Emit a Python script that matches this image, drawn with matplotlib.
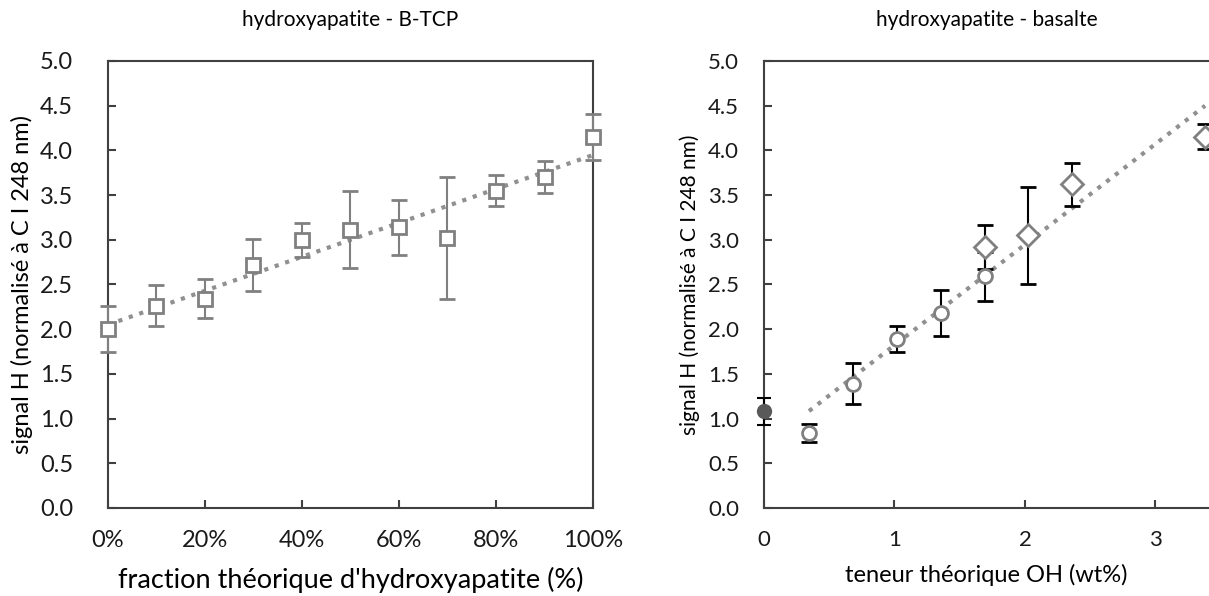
# coding: utf-8
import numpy as np
import matplotlib
matplotlib.use("Agg")
import matplotlib.pyplot as plt
from matplotlib.ticker import PercentFormatter

plt.rcParams['font.family'] = ['Lato', 'DejaVu Sans']

# hydroxyapatite - B-TCP
frac = [0.0, 0.1, 0.2, 0.3, 0.4, 0.5, 0.6, 0.7, 0.8, 0.9, 1.0]
sig_btcp = [2.0, 2.26, 2.34, 2.72, 3.0, 3.11, 3.14, 3.02, 3.55, 3.70, 4.15]
err_btcp = [0.26, 0.23, 0.22, 0.29, 0.19, 0.43, 0.31, 0.68, 0.17, 0.18, 0.26]

# hydroxyapatite - basalte (cercles / losanges / point a 0)
oh_circ = [0.345, 0.68, 1.02, 1.36, 1.69]
sig_circ = [0.84, 1.39, 1.89, 2.18, 2.59]
err_circ = [0.10, 0.23, 0.15, 0.26, 0.27]
oh_diam = [1.69, 2.02, 2.36, 3.38]
sig_diam = [2.92, 3.05, 3.62, 4.15]
err_diam = [0.25, 0.54, 0.24, 0.14]
oh_zero = [0.0]
sig_zero = [1.08]
err_zero = [0.15]

gris = '#808080'
axe = '#404040'
ylab = "signal H (normalisé à C I 248 nm)"

fig = plt.figure(figsize=(12.09, 5.96), dpi=100)
ax1 = fig.add_axes([0.0893, 0.1477, 0.4012, 0.75])
ax2 = fig.add_axes([0.6319, 0.1477, 0.3681, 0.75])

# --- gauche
ax1.errorbar(frac, sig_btcp, yerr=err_btcp, fmt='s', ms=10, mfc='white', mec=gris,
             mew=2, ecolor=gris, elinewidth=1.5, capsize=6, capthick=1.5, clip_on=False, zorder=3)
p1 = np.polyfit(frac, sig_btcp, 1)
xs = np.array([min(frac), max(frac)])
ax1.plot(xs, np.polyval(p1, xs), ':', color='#909090', lw=3, zorder=2)
ax1.set_xlim(0, 1)
ax1.xaxis.set_major_formatter(PercentFormatter(1.0, decimals=0))
ax1.set_xticks(np.arange(0, 1.01, 0.2))
ax1.set_xlabel("fraction théorique d'hydroxyapatite (%)", fontsize=19.5, labelpad=11)
ax1.set_ylabel(ylab, fontsize=17, labelpad=5)
ax1.set_title("hydroxyapatite - B-TCP", fontsize=15, pad=25)
ax1.tick_params(labelsize=17)
ax1.tick_params(axis='y', pad=25)

# --- droite
ax2.errorbar(oh_circ, sig_circ, yerr=err_circ, fmt='o', ms=10, mfc='white', mec=gris,
             mew=2, ecolor='black', elinewidth=1.5, capsize=6, capthick=1.5, zorder=3)
ax2.errorbar(oh_diam, sig_diam, yerr=err_diam, fmt='D', ms=11, mfc='white', mec=gris,
             mew=2, ecolor='black', elinewidth=1.5, capsize=6, capthick=1.5, zorder=3)
ax2.errorbar(oh_zero, sig_zero, yerr=err_zero, fmt='o', ms=10, color='#595959',
             ecolor='black', elinewidth=1.5, capsize=5, capthick=1.5, clip_on=False, zorder=4)
oh_all = oh_circ + oh_diam
sig_all = sig_circ + sig_diam
p2 = np.polyfit(oh_all, sig_all, 1)
xs2 = np.array([min(oh_all), max(oh_all)])
ax2.plot(xs2, np.polyval(p2, xs2), ':', color='#909090', lw=3, zorder=2)
ax2.set_xlim(0, 3.41)
ax2.set_xticks([0, 1, 2, 3])
ax2.spines['right'].set_visible(False)
ax2.set_xlabel("teneur théorique OH (wt%)", fontsize=17, labelpad=10)
ax2.set_ylabel(ylab, fontsize=15, labelpad=6)
ax2.set_title("hydroxyapatite - basalte", fontsize=15, pad=25)
ax2.tick_params(labelsize=16)
ax2.tick_params(axis='y', pad=18)

for ax in (ax1, ax2):
    ax.set_ylim(0, 5)
    ax.set_yticks(np.arange(0, 5.01, 0.5))
    ax.yaxis.set_major_formatter(plt.FormatStrFormatter('%.1f'))
    ax.tick_params(direction='in', length=6, width=1.5, color=axe, labelcolor='#1a1a1a')
    ax.tick_params(axis='x', pad=16)
    for s in ax.spines.values():
        s.set_color(axe)
        s.set_linewidth(1.5)

fig.savefig("out.png", dpi=100)
